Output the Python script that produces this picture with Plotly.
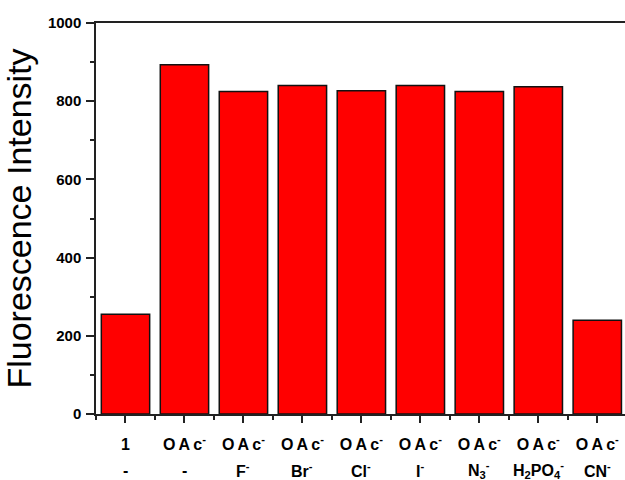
import plotly.graph_objects as go

# Fluorescence response of sensor 1 to acetate alone and acetate with other anions
OAC = "O\u2009A\u2009c<sup>-</sup>"
row1_labels = ["1", OAC, OAC, OAC, OAC, OAC, OAC, OAC, OAC]
row2_labels = ["-", "-", "F<sup>-</sup>", "Br<sup>-</sup>", "Cl<sup>-</sup>", "I<sup>-</sup>",
               "N<sub>3</sub><sup>-</sup>", "H<sub>2</sub>PO<sub>4</sub><sup>-</sup>", "CN<sup>-</sup>"]
intensity = [255, 893, 825, 840, 827, 840, 825, 837, 240]

positions = list(range(len(intensity)))
label_font = dict(family="Liberation Sans, Arial", size=16, color="black", weight="bold")
line_col = "#222222"

fig = go.Figure(go.Bar(
    x=positions,
    y=intensity,
    width=0.82,
    marker=dict(color="#ff0000", line=dict(color="#111111", width=1.5)),
))

# second row of category labels beneath the axis tick labels
for p, txt in zip(positions, row2_labels):
    fig.add_annotation(x=p, y=0, xref="x", yref="paper", text=txt, showarrow=False,
                       yshift=-56, font=label_font, xanchor="center", yanchor="middle")

fig.update_layout(
    width=625, height=480,
    margin=dict(l=96, r=0, t=23, b=66),
    paper_bgcolor="white", plot_bgcolor="white",
    showlegend=False,
    xaxis=dict(
        range=[-0.5, 8.47], tickmode="array", tickvals=positions, ticktext=row1_labels,
        ticks="outside", ticklen=7, tickwidth=1.5, tickcolor=line_col,
        minor=dict(tickmode="linear", tick0=0.5, dtick=1, ticks="outside", ticklen=4,
                   tickwidth=1.5, tickcolor=line_col),
        showline=True, linecolor=line_col, linewidth=1.5, mirror=True,
        showgrid=False, zeroline=False, tickfont=label_font, ticklabelstandoff=8,
    ),
    yaxis=dict(
        range=[0, 1000], dtick=200, ticks="outside", ticklen=8, tickwidth=1.5, tickcolor=line_col,
        minor=dict(dtick=100, ticks="outside", ticklen=4, tickwidth=1.5, tickcolor=line_col),
        showline=True, linecolor=line_col, linewidth=1.5,
        showgrid=False, zeroline=False,
        tickfont=dict(family="Liberation Sans, Arial", size=15, color="black", weight="bold"),
        ticklabelstandoff=2,
        title=dict(text="Fluorescence Intensity", standoff=6,
                   font=dict(family="Liberation Sans, Arial", size=34, color="black")),
    ),
)

fig.write_html("out.html")
